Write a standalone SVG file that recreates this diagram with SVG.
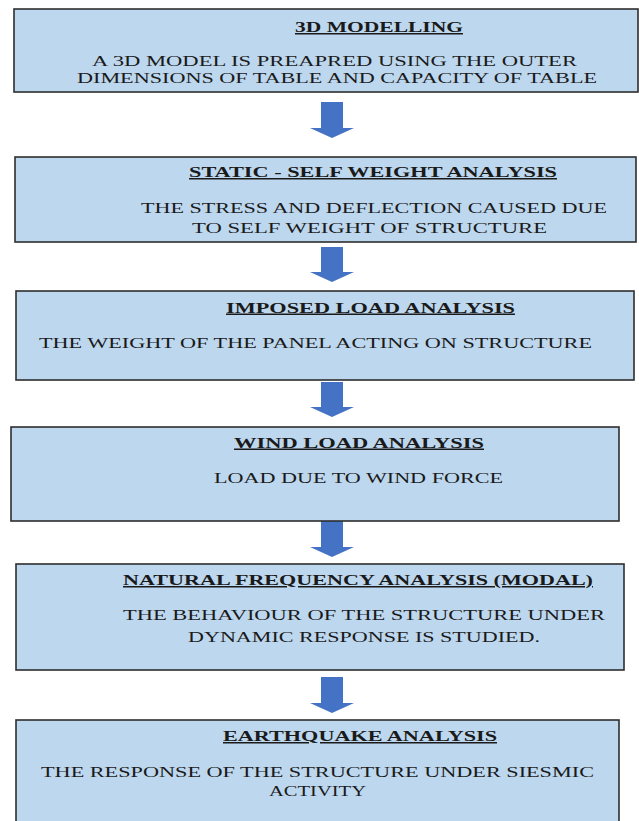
<svg xmlns="http://www.w3.org/2000/svg" width="639" height="821" viewBox="0 0 639 821">
<style>
.box{fill:#BDD7EE;stroke:#2e2e2e;stroke-width:1.6}
.arrow{fill:#4472C4}
text{font-family:"Liberation Serif","Times New Roman",serif;font-size:15px;fill:#1a1a1a}
.t{font-weight:bold;text-decoration:underline}
</style>
<rect width="639" height="821" fill="#fff"/>
<g id="connectors">
<path class="arrow" d="M321,102 H343 V128 H354 L332,138 L310,128 H321 Z"/>
<path class="arrow" d="M321,247 H343 V272 H354 L332,282 L310,272 H321 Z"/>
<path class="arrow" d="M321,382 H343 V407 H354 L332,417 L310,407 H321 Z"/>
<path class="arrow" d="M321,521 H343 V547 H354 L332,557 L310,547 H321 Z"/>
<path class="arrow" d="M321,677 H343 V703 H354 L332,713 L310,703 H321 Z"/>
</g>
<g id="n1">
<rect class="box" x="14" y="9" width="624" height="83"/>
<text class="t" x="295" y="32" textLength="168" lengthAdjust="spacingAndGlyphs">3D MODELLING</text>
<text x="92" y="66" textLength="485" lengthAdjust="spacingAndGlyphs">A 3D MODEL IS PREAPRED  USING THE OUTER</text>
<text x="77" y="82.5" textLength="520" lengthAdjust="spacingAndGlyphs">DIMENSIONS OF TABLE AND CAPACITY  OF TABLE</text>
</g>
<g id="n2">
<rect class="box" x="15" y="157" width="621" height="85"/>
<text class="t" x="189" y="177" textLength="368" lengthAdjust="spacingAndGlyphs">STATIC - SELF WEIGHT ANALYSIS</text>
<text x="141" y="213" textLength="466" lengthAdjust="spacingAndGlyphs">THE STRESS AND DEFLECTION CAUSED  DUE</text>
<text x="192" y="233" textLength="355" lengthAdjust="spacingAndGlyphs">TO SELF WEIGHT  OF STRUCTURE</text>
</g>
<g id="n3">
<rect class="box" x="16" y="291" width="618" height="89"/>
<text class="t" x="226" y="312.5" textLength="289" lengthAdjust="spacingAndGlyphs">IMPOSED LOAD ANALYSIS</text>
<text x="39" y="348" textLength="553" lengthAdjust="spacingAndGlyphs">THE WEIGHT OF THE PANEL ACTING  ON STRUCTURE</text>
</g>
<g id="n4">
<rect class="box" x="11" y="427" width="608" height="94"/>
<text class="t" x="234" y="447.5" textLength="250" lengthAdjust="spacingAndGlyphs">WIND LOAD ANALYSIS</text>
<text x="214" y="483" textLength="289" lengthAdjust="spacingAndGlyphs">LOAD DUE TO WIND FORCE</text>
</g>
<g id="n5">
<rect class="box" x="16" y="564" width="608" height="106"/>
<text class="t" x="123" y="585" textLength="470" lengthAdjust="spacingAndGlyphs">NATURAL FREQUENCY  ANALYSIS (MODAL)</text>
<text x="123" y="620" textLength="482" lengthAdjust="spacingAndGlyphs">THE BEHAVIOUR OF THE STRUCTURE  UNDER</text>
<text x="188" y="641.5" textLength="352" lengthAdjust="spacingAndGlyphs">DYNAMIC RESPONSE  IS STUDIED.</text>
</g>
<g id="n6">
<rect class="box" x="16" y="720" width="603" height="110"/>
<text class="t" x="223" y="741" textLength="274" lengthAdjust="spacingAndGlyphs">EARTHQUAKE ANALYSIS</text>
<text x="41" y="776.5" textLength="553" lengthAdjust="spacingAndGlyphs">THE RESPONSE  OF THE STRUCTURE  UNDER SIESMIC</text>
<text x="269" y="796" textLength="97" lengthAdjust="spacingAndGlyphs">ACTIVITY</text>
</g>
</svg>
